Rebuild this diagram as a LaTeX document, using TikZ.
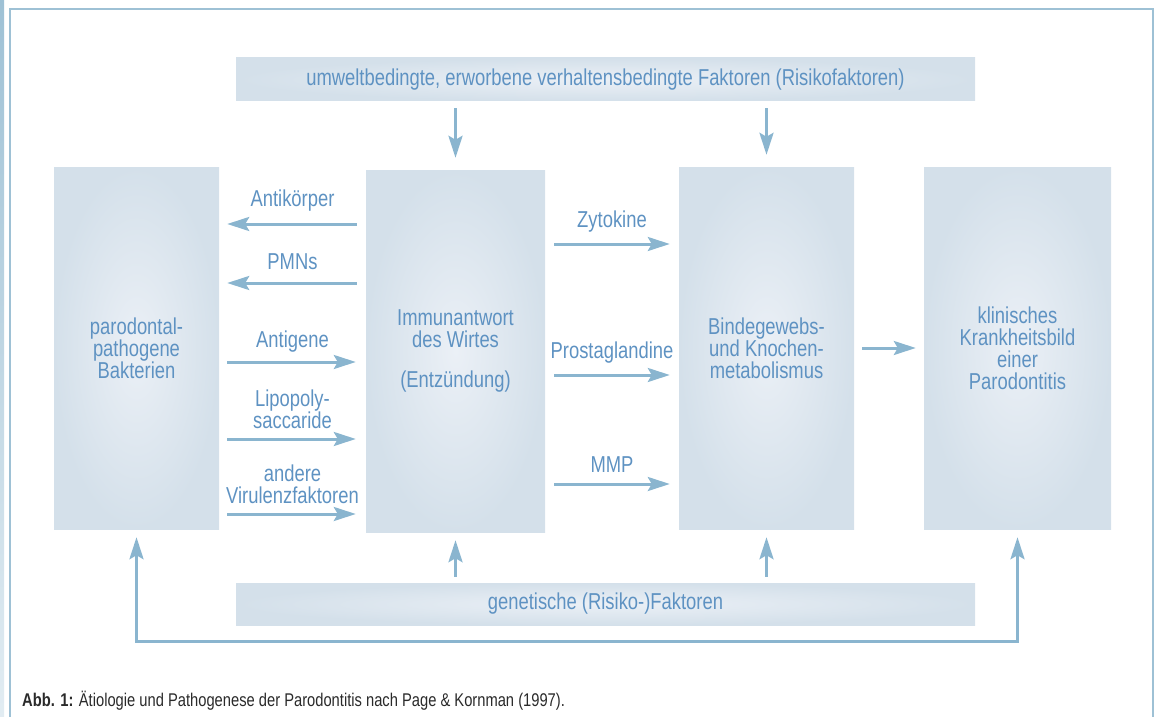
\documentclass[tikz,border=0pt]{standalone}
\usepackage{fontspec}
\setmainfont[FakeStretch=0.8]{Liberation Sans}
\usetikzlibrary{arrows.meta,calc}
\definecolor{txt}{HTML}{5E92C2}
\definecolor{arrc}{HTML}{8AB5CF}
\definecolor{boxout}{HTML}{D4E0EA}
\definecolor{boxin}{HTML}{EBF0F6}
\definecolor{framec}{HTML}{9EC1D5}
\definecolor{capc}{HTML}{2A2A2A}
\begin{document}
\begin{tikzpicture}[x=1pt,y=-1pt,
  box/.style={inner color=boxin, outer color=boxout, draw=none, text=txt, align=center,
    font=\fontsize{23}{22}\selectfont, inner sep=0pt},
  lbl/.style={text=txt, align=center, font=\fontsize{23}{22}\selectfont, inner sep=0pt},
  conn/.style={draw=arrc, line width=3pt, -{Stealth[length=22pt,width=14pt,inset=4pt]}},
  bothconn/.style={draw=arrc, line width=3pt,
    {Stealth[length=22pt,width=14pt,inset=4pt]}-{Stealth[length=22pt,width=14pt,inset=4pt]}},
]
\useasboundingbox (0,0) rectangle (1163,717);
% page frame
\shade[top color=framec, bottom color=framec!30] (0,0) rectangle (4,717);
\draw[framec, line width=2pt] (9.5,717) -- (9.5,9) -- (1153,9) -- (1153,717);

% boxes
\node[box, minimum width=165pt, minimum height=362pt] (b1) at (136.5,348) {parodontal-\\pathogene\\Bakterien};
\node[box, minimum width=179pt, minimum height=362pt] (b2) at (455.5,351) {Immunantwort\\des Wirtes\\[18pt](Entzündung)};
\node[box, minimum width=175pt, minimum height=362pt] (b3) at (766.5,348) {Bindegewebs-\\und Knochen-\\metabolismus};
\node[box, minimum width=187pt, minimum height=362pt] (b4) at (1017.5,348) {klinisches\\Krankheitsbild\\einer\\Parodontitis};
\node[box, minimum width=739pt, minimum height=43pt] (top) at (605.5,79.5) {umweltbedingte, erworbene verhaltensbedingte Faktoren (Risikofaktoren)};
\node[box, minimum width=739pt, minimum height=42pt] (bot) at (605.5,604) {genetische (Risiko-)Faktoren};

% row coordinates
\coordinate (r1) at (0,224);
\coordinate (r2) at (0,283);
\coordinate (r3) at (0,362);
\coordinate (r4) at (0,439);
\coordinate (r5) at (0,514);
\coordinate (s1) at (0,244);
\coordinate (s2) at (0,375);
\coordinate (s3) at (0,484);
\coordinate (fb) at (0,641);

% vertical arrows
\draw[conn, shorten <=7pt, shorten >=12pt] (b2.north |- top.south) -- (b2.north);
\draw[conn, shorten <=7pt, shorten >=12pt] (b3.north |- top.south) -- (b3.north);
\draw[conn, shorten <=6pt, shorten >=8pt] (b2.south |- bot.north) -- (b2.south);
\draw[conn, shorten <=6pt, shorten >=8pt] (b3.south |- bot.north) -- (b3.south);

% feedback loop
\draw[bothconn, shorten <=8pt, shorten >=8pt] (b1.south) -- (b1.south |- fb) -- (b4.south |- fb) -- (b4.south);

% left column
\draw[conn, shorten <=9pt, shorten >=8pt] (b2.west |- r1) -- node[lbl, yshift=23pt]{Antikörper} (b1.east |- r1);
\draw[conn, shorten <=9pt, shorten >=8pt] (b2.west |- r2) -- node[lbl, yshift=21pt]{PMNs} (b1.east |- r2);
\draw[conn, shorten <=8pt, shorten >=10pt] (b1.east |- r3) -- node[lbl, yshift=20pt]{Antigene} (b2.west |- r3);
\draw[conn, shorten <=8pt, shorten >=10pt] (b1.east |- r4) -- node[lbl, yshift=30pt]{Lipopoly-\\saccaride} (b2.west |- r4);
\draw[conn, shorten <=8pt, shorten >=10pt] (b1.east |- r5) -- node[lbl, yshift=30pt]{andere\\Virulenzfaktoren} (b2.west |- r5);

% right column
\draw[conn, shorten <=9pt, shorten >=9pt] (b2.east |- s1) -- node[lbl, yshift=22pt]{Zytokine} (b3.west |- s1);
\draw[conn, shorten <=9pt, shorten >=9pt] (b2.east |- s2) -- node[lbl, yshift=22pt]{Prostaglandine} (b3.west |- s2);
\draw[conn, shorten <=9pt, shorten >=9pt] (b2.east |- s3) -- node[lbl, yshift=19pt]{MMP} (b3.west |- s3);

% to clinical picture
\draw[conn, shorten <=8pt, shorten >=8pt] (b3.east) -- (b4.west);

% caption
\node[anchor=base west, text=capc, font=\fontsize{18.4}{20}\selectfont, inner sep=0pt] (cap) at (22,706)
  {\textbf{Abb. 1:} Ätiologie und Pathogenese der Parodontitis nach Page \& Kornman (1997).};
\end{tikzpicture}
\end{document}
